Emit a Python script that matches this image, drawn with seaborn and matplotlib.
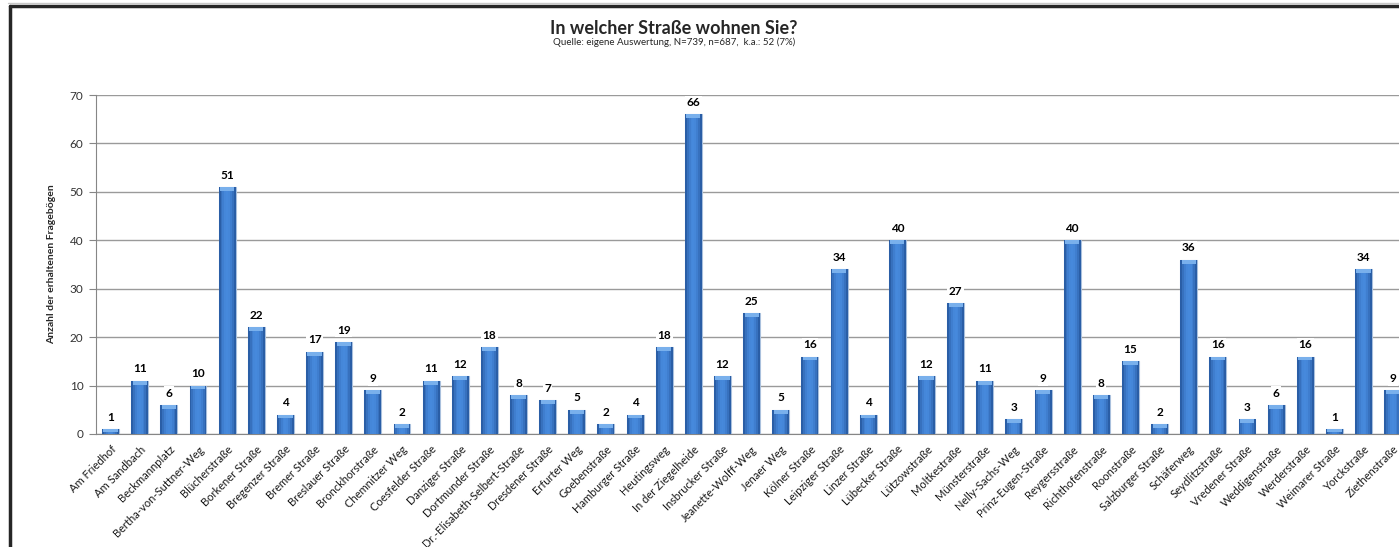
import numpy as np
import pandas as pd
import seaborn as sns
import matplotlib.pyplot as plt
from matplotlib.patches import Rectangle
from matplotlib.lines import Line2D
from matplotlib.colors import LinearSegmentedColormap

# data
strassen = ["Am Friedhof", "Am Sandbach", "Beckmannplatz", "Bertha-von-Suttner-Weg",
            "Blücherstraße", "Borkener Straße", "Bregenzer Straße", "Bremer Straße",
            "Breslauer Straße", "Bronckhorstraße", "Chemnitzer Weg", "Coesfelder Straße",
            "Danziger Straße", "Dortmunder Straße", "Dr.-Elisabeth-Selbert-Straße",
            "Dresdener Straße", "Erfurter Weg", "Goebenstraße", "Hamburger Straße",
            "Heutingsweg", "In der Ziegelheide", "Insbrucker Straße", "Jeanette-Wolff-Weg",
            "Jenaer Weg", "Kölner Straße", "Leipziger Straße", "Linzer Straße",
            "Lübecker Straße", "Lützowstraße", "Moltkestraße", "Münsterstraße",
            "Nelly-Sachs-Weg", "Prinz-Eugen-Straße", "Reygersstraße", "Richthofenstraße",
            "Roonstraße", "Salzburger Straße", "Schäferweg", "Seydlitzstraße",
            "Vredener Straße", "Weddigenstraße", "Werderstraße", "Weimarer Straße",
            "Yorckstraße", "Ziethenstraße"]
anzahl = [1, 11, 6, 10, 51, 22, 4, 17, 19, 9, 2, 11, 12, 18, 8, 7, 5, 2, 4, 18,
          66, 12, 25, 5, 16, 34, 4, 40, 12, 27, 11, 3, 9, 40, 8, 15, 2, 36, 16, 3,
          6, 16, 1, 34, 9]
y_ticks = [0, 10, 20, 30, 40, 50, 60, 70]

titel = "In welcher Straße wohnen Sie?"
quelle = "Quelle: eigene Auswertung, N=739, n=687,  k.a.: 52 (7%)"
y_label = "Anzahl der erhaltenen Fragebögen"

df = pd.DataFrame({"strasse": strassen, "anzahl": anzahl})

sns.set_style("white")
plt.rcParams["font.family"] = ["Lato", "DejaVu Sans"]

fig = plt.figure(figsize=(13.99, 5.47), dpi=100)
# the original is cropped on the right: the axes ends at the figure edge,
# partway through the last bar's slot
ax_left = 96 / 1399
ax = fig.add_axes([ax_left, 0.2066, 1 - ax_left, 0.6197])
slot_px = 29.14
x_right = -0.5 + (1399 - 96) / slot_px

sns.barplot(data=df, x="strasse", y="anzahl", color="#3a78c8", width=0.58,
            saturation=1, edgecolor="#a9c0dd", linewidth=0.8, ax=ax, zorder=3)

# shading on each bar: darker sides, lighter middle, light top cap
cmap = LinearSegmentedColormap.from_list("bar", ["#2a5ea6", "#4689dc"])
shade = [0.0, 0.45, 0.75, 0.95, 1.0, 0.95, 0.75, 0.45, 0.0]
for p in list(ax.patches):
    x0, y0 = p.get_x(), p.get_y()
    w, h = p.get_width(), p.get_height()
    sw = w / len(shade)
    for k, s in enumerate(shade):
        ax.add_patch(Rectangle((x0 + k * sw, y0), sw * 1.02, h, facecolor=cmap(s),
                               edgecolor="none", zorder=3.5))
    cap = min(0.8, h * 0.5)
    ax.add_patch(Rectangle((x0 + w * 0.08, y0 + h - cap), w * 0.84, cap,
                           facecolor="#79b0ec", edgecolor="none", zorder=4))

ax.set_xlim(-0.5, x_right)
ax.set_ylim(0, 70)
ax.set_yticks(y_ticks)
ax.grid(axis="y", color="#9a9a9a", linewidth=1, zorder=0)
ax.set_axisbelow(True)

# value labels with white background so the grid breaks behind them
for i, v in enumerate(anzahl):
    ax.text(i, v + 1.3, str(v), ha="center", va="bottom", fontsize=8.5,
            fontweight="bold", color="black", zorder=5,
            bbox=dict(facecolor="white", edgecolor="none", pad=1.0))

for s in ["top", "right"]:
    ax.spines[s].set_visible(False)
ax.spines["left"].set_color("#868686")
ax.spines["bottom"].set_color("#868686")

ax.set_xticks(range(len(strassen)))
ax.set_xticklabels(strassen, rotation=45, ha="right", rotation_mode="anchor",
                   fontsize=8, color="#1a1a1a")
ax.tick_params(axis="x", which="major", length=0, pad=7)
ax.set_xticks(np.arange(len(strassen) - 1) + 0.5, minor=True)
ax.tick_params(axis="x", which="minor", length=5, color="#868686", direction="out")
ax.tick_params(axis="y", length=5, color="#868686", labelsize=8.5, labelcolor="#333333",
               left=True, direction="out", pad=4)

ax.set_xlabel("")
ax.set_ylabel(y_label, fontsize=7.5, fontweight="bold", labelpad=10)

fig.text(674 / 1399, 1 - 29 / 547, titel, ha="center", va="center",
         fontsize=13, fontweight="bold")
fig.text(674 / 1399, 1 - 42 / 547, quelle, ha="center", va="center", fontsize=7)

# chart frame (only top and left edges visible in the crop)
fy = 1 - 6 / 547
fx = 9.5 / 1399
fig.lines.append(Line2D([fx, 1.0], [fy, fy], transform=fig.transFigure,
                        color="#262626", linewidth=2.5))
fig.lines.append(Line2D([fx, fx], [0.0, fy], transform=fig.transFigure,
                        color="#262626", linewidth=2.5))
fig.lines.append(Line2D([8 / 1399, 1.0], [1 - 3 / 547, 1 - 3 / 547],
                        transform=fig.transFigure, color="#c8c8c8", linewidth=1))

fig.savefig("out.png", dpi=100)
